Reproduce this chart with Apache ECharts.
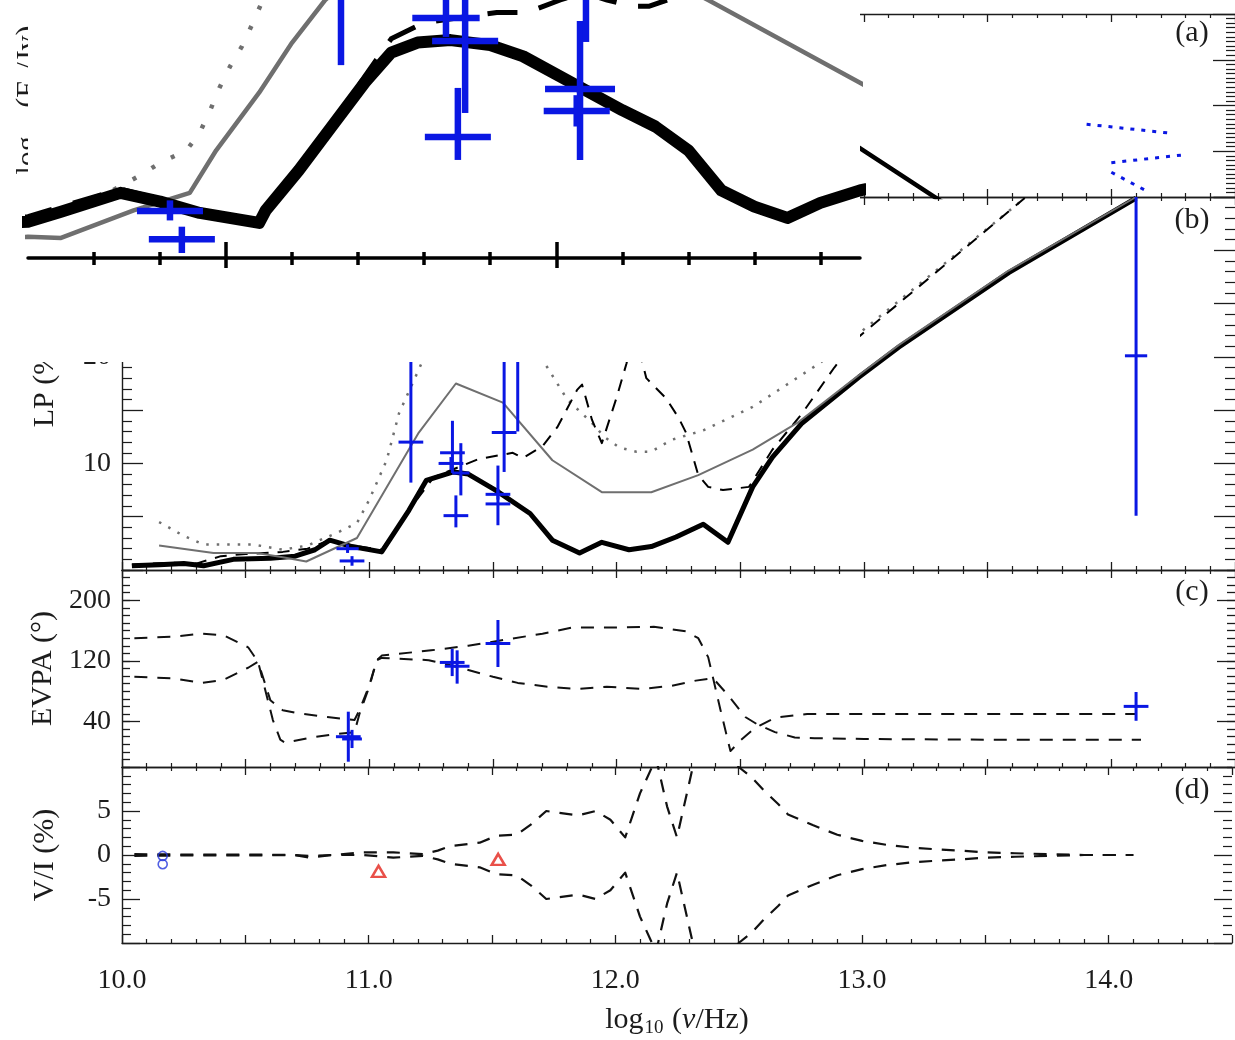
<!DOCTYPE html>
<html>
<head>
<meta charset="utf-8">
<title>Flux and polarization spectra</title>
<script src="https://cdn.jsdelivr.net/npm/echarts@6.0.0/dist/echarts.min.js"></script>
<style>
  html, body { margin: 0; padding: 0; background: #ffffff; }
  #chart { width: 1235px; height: 1040px; }
</style>
</head>
<body>
<div id="chart"></div>
<script>
// ---------------- frequency axis ----------------
const nuMin = 10.0, nuMax = 14.5;
const insetNuMin = 10.70, insetNuMax = 11.96;
const insetMinorTicks = [10.8, 10.9, 11.1, 11.2, 11.3, 11.4, 11.6, 11.7, 11.8, 11.9];
const insetMajorTicks = [11.0, 11.5];
const evpaLabelTicks = [40, 120, 200];

// ---------------- (a) flux density, log10(F/Jy) ----------------
const fluxTotalNu  = [10.30, 10.50, 10.70, 10.75, 10.84, 10.90, 10.96, 11.05, 11.06, 11.11, 11.16, 11.21, 11.25, 11.29, 11.34, 11.40, 11.45, 11.52, 11.60, 11.65, 11.70, 11.75, 11.80, 11.85, 11.90, 11.96, 12.10, 12.30, 12.55, 12.80, 12.98, 13.28, 13.40];
const fluxTotalVal = [-2.86, -2.78, -2.71, -2.63, -2.48, -2.55, -2.64, -2.72, -2.62, -2.30, -1.95, -1.60, -1.36, -1.28, -1.26, -1.30, -1.39, -1.59, -1.82, -1.95, -2.14, -2.46, -2.59, -2.68, -2.56, -2.46, -2.30, -2.15, -2.00, -1.86, -1.92, -2.98, -3.40];

const fluxHighNu  = [10.30, 10.50, 10.70, 10.75, 10.86, 10.945, 10.985, 11.05, 11.10, 11.15, 11.25, 11.40, 11.55, 11.73, 11.96, 12.20, 12.45, 12.60];
const fluxHighVal = [-3.00, -2.92, -2.83, -2.84, -2.62, -2.48, -2.14, -1.68, -1.28, -0.94, -0.50, -0.30, -0.45, -0.94, -1.60, -2.30, -3.10, -3.60];

const fluxDotNu  = [10.80, 10.87, 10.90, 10.94, 10.96, 10.976, 10.99, 11.006, 11.024, 11.039, 11.054, 11.20, 11.40, 11.70, 12.00, 12.40, 12.70];
const fluxDotVal = [-2.54, -2.34, -2.24, -2.14, -2.00, -1.82, -1.64, -1.47, -1.31, -1.14, -0.96, -0.10, 0.30, -0.20, -0.85, -2.40, -3.50];

const fluxDashNu  = [10.30, 10.50, 10.70, 10.75, 10.84, 10.90, 10.96, 11.05, 11.06, 11.11, 11.16, 11.21, 11.25, 11.30, 11.41, 11.456, 11.506, 11.54, 11.577, 11.616, 11.64, 11.668, 11.75, 11.90, 12.10, 12.40, 12.70];
const fluxDashVal = [-2.84, -2.76, -2.67, -2.59, -2.45, -2.53, -2.63, -2.72, -2.62, -2.30, -1.95, -1.55, -1.25, -1.12, -1.04, -1.04, -0.94, -0.88, -0.94, -0.99, -0.99, -0.94, -0.80, -0.60, -1.00, -2.30, -3.50];

// measured fluxes: frequency, value, frequency half-width, lower and upper error ends
const fluxObsNu    = [10.915, 10.933, 11.174, 11.333, 11.362, 11.351, 11.536, 11.531, 11.545];
const fluxObsVal   = [-2.625, -2.85, -0.60, -1.083, -1.267, -2.034, -1.65, -1.826, -0.70];
const fluxObsNuErr = [0.05, 0.05, 0.05, 0.051, 0.05, 0.05, 0.053, 0.05, 0.05];
const fluxObsLow   = [-2.70, -2.96, -1.46, -1.235, -1.842, -2.217, -2.217, -1.95, -1.275];
const fluxObsHigh  = [-2.54, -2.75, 0.26, -0.93, -0.69, -1.642, -1.107, -1.70, -0.12];

// near-IR / optical spectral slopes
const slopeANu = [13.90, 14.23], slopeAVal = [-1.41, -1.60];
const slopeBNu = [14.00, 14.29], slopeBVal = [-2.25, -2.08];
const slopeCNu = [14.00, 14.15], slopeCVal = [-2.46, -2.89];

// ---------------- (b) linear polarization, % ----------------
const lpTotalNu  = [10.04, 10.15, 10.25, 10.33, 10.45, 10.60, 10.70, 10.78, 10.84, 10.93, 11.05, 11.16, 11.23, 11.34, 11.40, 11.51, 11.65, 11.74, 11.85, 11.94, 12.05, 12.14, 12.24, 12.35, 12.45, 12.55, 12.63, 12.75, 12.98, 13.14, 13.585, 14.10];
const lpTotalVal = [0.4, 0.5, 0.6, 0.4, 1.0, 1.1, 1.3, 1.9, 2.8, 2.2, 1.7, 5.6, 8.4, 9.2, 9.0, 7.5, 5.3, 2.8, 1.6, 2.6, 1.9, 2.2, 3.1, 4.3, 2.6, 7.8, 10.6, 13.8, 18.1, 20.9, 27.9, 34.9];

const lpHighNu  = [10.15, 10.37, 10.545, 10.65, 10.745, 10.95, 11.20, 11.35, 11.54, 11.74, 11.94, 12.14, 12.33, 12.55, 12.73, 12.98, 13.14, 13.585, 14.10];
const lpHighVal = [2.3, 1.6, 1.6, 1.2, 0.8, 3.0, 12.9, 17.5, 15.7, 10.3, 7.3, 7.3, 8.9, 11.3, 13.8, 18.3, 21.1, 28.1, 35.0];

const lpDotNu  = [10.15, 10.25, 10.33, 10.53, 10.65, 10.75, 10.87, 10.95, 11.00, 11.07, 11.12, 11.19, 11.30, 11.45, 11.60, 11.72, 11.80, 11.90, 11.95, 12.01, 12.08, 12.14, 12.22, 12.35, 12.55, 12.82, 12.98, 13.65];
const lpDotVal = [4.5, 3.2, 2.4, 2.4, 1.9, 2.3, 3.5, 4.4, 6.6, 10.3, 14.7, 18.3, 24.0, 26.0, 23.0, 19.0, 16.0, 13.8, 12.5, 11.5, 11.1, 11.1, 12.2, 13.1, 15.3, 19.4, 22.2, 34.9];

const lpDashNu  = [10.04, 10.20, 10.30, 10.40, 10.50, 10.65, 10.75, 10.84, 10.93, 11.05, 11.16, 11.26, 11.44, 11.58, 11.62, 11.70, 11.76, 11.84, 11.86, 11.90, 11.94, 12.00, 12.04, 12.07, 12.12, 12.20, 12.25, 12.28, 12.33, 12.37, 12.43, 12.535, 12.63, 12.75, 12.88, 12.98, 13.65];
const lpDashVal = [0.5, 0.7, 0.6, 1.3, 1.5, 1.7, 2.0, 2.8, 2.3, 1.9, 5.6, 8.7, 10.4, 11.0, 10.5, 11.6, 13.4, 16.9, 17.4, 14.1, 11.9, 16.2, 19.4, 22.5, 18.0, 16.1, 14.3, 12.9, 8.9, 7.8, 7.5, 7.8, 11.3, 14.7, 19.0, 21.9, 34.9];

const lpObsNu    = [10.912, 10.930, 11.168, 11.336, 11.330, 11.370, 11.350, 11.545, 11.600, 11.520, 11.520, 14.100];
const lpObsVal   = [2.0, 0.85, 12.0, 11.0, 10.0, 9.1, 5.1, 12.9, 24.0, 7.1, 6.2, 20.1];
const lpObsNuErr = [0.045, 0.05, 0.05, 0.05, 0.05, 0.035, 0.05, 0.05, 0.05, 0.05, 0.05, 0.045];
const lpObsLow   = [1.6, 0.4, 8.2, 9.1, 9.4, 7.0, 4.0, 9.2, 13.0, 6.6, 4.2, 5.1];
const lpObsHigh  = [2.4, 1.3, 22.0, 14.0, 10.6, 11.9, 7.0, 22.0, 35.0, 7.6, 9.8, 35.1];

// ---------------- (c) EVPA, degrees ----------------
const evpaUNu  = [10.05, 10.21, 10.32, 10.41, 10.51, 10.55, 10.61, 10.64, 10.66, 10.75, 10.85, 10.94, 10.96, 11.00, 11.03, 11.05, 11.25, 11.40, 11.55, 11.70, 11.82, 12.00, 12.15, 12.28, 12.33, 12.37, 12.39, 12.42, 12.46, 12.50, 12.55, 12.58, 12.64, 12.77, 13.00, 13.50, 14.10];
const evpaUVal = [150, 152, 156, 154, 138, 119, 42, 16, 12, 18, 23, 26, 50, 86, 121, 127, 134, 140, 148, 156, 164, 164, 165, 159, 150, 125, 97, 55, 1, 15, 29, 35, 45, 50, 50, 50, 50];

const evpaLNu  = [10.05, 10.21, 10.32, 10.41, 10.51, 10.55, 10.60, 10.65, 10.71, 10.83, 10.94, 10.96, 11.00, 11.03, 11.05, 11.24, 11.32, 11.40, 11.50, 11.60, 11.72, 11.84, 11.96, 12.10, 12.22, 12.32, 12.39, 12.45, 12.52, 12.57, 12.64, 12.72, 12.80, 13.00, 13.50, 14.12];
const evpaLVal = [99, 97, 91, 95, 111, 119, 68, 55, 51, 46, 42, 55, 88, 121, 124, 121, 115, 108, 99, 91, 86, 83, 86, 83, 87, 94, 97, 75, 46, 36, 26, 19, 18, 17, 16, 16];

const evpaObsNu    = [10.915, 10.930, 11.335, 11.355, 11.520, 14.100];
const evpaObsVal   = [20, 17, 118, 113, 143, 60];
const evpaObsNuErr = [0.05, 0.04, 0.05, 0.05, 0.05, 0.05];
const evpaObsLow   = [-13, 5, 100, 90, 112, 41];
const evpaObsHigh  = [53, 29, 136, 134, 174, 79];

// ---------------- (d) circular polarization V/I, % ----------------
const vNu    = [10.05, 10.25, 10.50, 10.70, 10.76, 10.85, 10.98, 11.10, 11.22, 11.28, 11.33, 11.45, 11.52, 11.60, 11.66, 11.72, 11.77, 11.85, 11.92, 11.98, 12.04, 12.10, 12.165, 12.21, 12.25, 12.29, 12.33, 12.40, 12.50, 12.55, 12.60, 12.66, 12.70, 12.80, 12.90, 13.00, 13.10, 13.20, 13.30, 13.40, 13.50, 13.62, 13.75, 13.90, 14.10];
const vUpVal = [0.1, 0.05, 0.05, 0.0, -0.3, 0.0, 0.3, 0.3, 0.1, 0.5, 1.0, 1.4, 2.2, 2.3, 3.5, 5.0, 4.8, 4.5, 5.0, 4.0, 2.0, 7.0, 11.0, 5.5, 2.0, 7.0, 12.0, 15.0, 10.0, 8.9, 7.4, 5.8, 4.6, 3.4, 2.3, 1.6, 1.15, 0.85, 0.65, 0.5, 0.3, 0.2, 0.1, 0.0, 0.0];
const vLoVal = [-0.1, -0.05, -0.05, 0.0, -0.1, 0.0, 0.0, -0.3, -0.1, -0.5, -1.0, -1.4, -2.2, -2.3, -3.5, -5.0, -4.8, -4.5, -5.0, -4.0, -2.0, -7.0, -11.0, -5.5, -2.0, -7.0, -12.0, -15.0, -10.0, -8.9, -7.4, -5.8, -4.6, -3.4, -2.3, -1.6, -1.15, -0.85, -0.65, -0.5, -0.3, -0.2, -0.1, 0.0, 0.0];

const vCircleNu = [10.165, 10.165], vCircleVal = [-0.1, -1.05];
const vTriNu    = [11.04, 11.525],  vTriVal    = [-1.85, -0.5];

// ---------------- styling ----------------
const serif = '"Liberation Serif", "Times New Roman", Times, serif';
const ink = '#1c1c1c';
const blue = '#0a17e3';
const red = '#e3241b';
const grey = '#6f6f6f';

const panelGrids = [
  { left: 122, top: 12,  width: 1114.6, height: 185 },
  { left: 122, top: 197, width: 1114.6, height: 373 },
  { left: 122, top: 570, width: 1114.6, height: 197 },
  { left: 122, top: 767, width: 1114.6, height: 176 }
];
const insetGrid = { left: 28, top: 0, width: 832, height: 258, show: true,
  backgroundColor: '#ffffff', borderWidth: 0, zlevel: 2, z: 0 };

const pairs = (xs, ys) => xs.map((x, i) => [x, ys[i]]);
const crossRows = (nu, val, dnu, lo, hi) => nu.map((x, i) => [x, val[i], dnu[i], lo[i], hi[i]]);

const axisRich = {
  n: { fontFamily: serif, fontSize: 30, color: ink, lineHeight: 34, verticalAlign: 'top' },
  i: { fontFamily: serif, fontSize: 30, color: ink, fontStyle: 'italic', lineHeight: 34, verticalAlign: 'top' },
  s: { fontFamily: serif, fontSize: 19, color: ink, lineHeight: 20, verticalAlign: 'top', padding: [14, 1, 0, 1] }
};

function mainXAxis(gi, position, labelled) {
  const ax = {
    type: 'value', gridIndex: gi, position: position, min: nuMin, max: nuMax, interval: 0.5,
    splitLine: { show: false },
    axisLine: { show: true, onZero: false, lineStyle: { color: ink, width: 1.4 } },
    axisTick: { show: true, inside: true, length: 8, lineStyle: { color: ink, width: 1.3 } },
    minorTick: { show: true, splitNumber: 5, length: 4, lineStyle: { color: ink, width: 1.2 } },
    axisLabel: { show: labelled, margin: 24, fontFamily: serif, fontSize: 28, color: ink,
      formatter: v => Math.abs(v - Math.round(v)) < 1e-6 ? v.toFixed(1) : '' }
  };
  if (labelled) {
    ax.name = '{n|log}{s|10}{n| (}{i|ν}{n|/Hz)}';
    ax.nameLocation = 'middle';
    ax.nameGap = 62;
    ax.nameTextStyle = { rich: axisRich };
  }
  return ax;
}

const yCfg = [
  { min: -3,  max: 1,   interval: 1,  major: 22, minorSplit: 10, minor: 9,  fmt: v => String(v), name: '' },
  { min: 0,   max: 35,  interval: 5,  major: 21, minorSplit: 5,  minor: 10, fmt: v => (v > 0 && v % 10 === 0) ? String(v) : '', name: 'LP (%)' },
  { min: -20, max: 240, interval: 10, major: 8,  minorSplit: 0,  minor: 0,  fmt: v => evpaLabelTicks.indexOf(v) >= 0 ? String(v) : '', name: 'EVPA (°)' },
  { min: -10, max: 10,  interval: 5,  major: 18, minorSplit: 5,  minor: 9,  fmt: v => Math.abs(v) < 10 ? String(v) : '', name: 'V/I (%)' }
];

function mainYAxis(gi, position) {
  const c = yCfg[gi];
  const left = position === 'left';
  return {
    type: 'value', gridIndex: gi, position: position, min: c.min, max: c.max, interval: c.interval,
    splitLine: { show: false },
    axisLine: { show: left, onZero: false, lineStyle: { color: ink, width: 1.4 } },
    axisTick: { show: true, inside: true, length: c.major, lineStyle: { color: ink, width: 1.3 } },
    minorTick: { show: c.minorSplit > 0, splitNumber: c.minorSplit || 2, length: c.minor, lineStyle: { color: ink, width: 1.2 } },
    axisLabel: { show: left, margin: 11, fontFamily: serif, fontSize: 28, color: ink, formatter: c.fmt },
    name: left ? c.name : '',
    nameLocation: 'middle', nameRotate: 90, nameGap: 62,
    nameTextStyle: { fontFamily: serif, fontSize: 30, color: ink }
  };
}

function evpaLongTicks(position) {
  return {
    type: 'value', gridIndex: 2, position: position, min: -20, max: 240,
    splitLine: { show: false }, axisLine: { show: false }, axisLabel: { show: false },
    axisTick: { show: true, inside: true, length: 18, customValues: evpaLabelTicks, lineStyle: { color: ink, width: 1.3 } }
  };
}

function insetXAxis(values, inside, length, withLine) {
  return {
    type: 'value', gridIndex: 4, position: 'bottom', min: insetNuMin, max: insetNuMax,
    zlevel: 2, z: 5,
    splitLine: { show: false },
    axisLine: { show: withLine, onZero: false, lineStyle: { color: '#000', width: 3.5 } },
    axisTick: { show: true, inside: inside, length: length, customValues: values, lineStyle: { color: '#000', width: 3.5 } },
    minorTick: { show: false },
    axisLabel: { show: false }
  };
}

const xAxes = [];
panelGrids.forEach((g, gi) => {
  xAxes.push(mainXAxis(gi, 'bottom', gi === 3));   // index 2*gi
  xAxes.push(mainXAxis(gi, 'top', false));         // index 2*gi+1
});
xAxes.push(insetXAxis(insetMinorTicks, true, 6, true));   // 8
xAxes.push(insetXAxis(insetMinorTicks, false, 7, false)); // 9
xAxes.push(insetXAxis(insetMajorTicks, true, 16, false)); // 10
xAxes.push(insetXAxis(insetMajorTicks, false, 10, false));// 11

const yAxes = [];
panelGrids.forEach((g, gi) => {
  yAxes.push(mainYAxis(gi, 'left'));   // 2*gi
  yAxes.push(mainYAxis(gi, 'right'));  // 2*gi+1
});
yAxes.push(evpaLongTicks('left'));   // 8
yAxes.push(evpaLongTicks('right'));  // 9
yAxes.push({ type: 'value', gridIndex: 4, min: -3, max: -0.94, show: false, zlevel: 2 }); // 10

// error-bar crosses, clipped to the plotting box
function crossRenderer(color, width) {
  return function (params, api) {
    const cs = params.coordSys;
    const bx0 = cs.x, bx1 = cs.x + cs.width, by0 = cs.y, by1 = cs.y + cs.height;
    const nu = api.value(0), v = api.value(1), dnu = api.value(2), lo = api.value(3), hi = api.value(4);
    const c = api.coord([nu, v]);
    const l = api.coord([nu - dnu, v]), r = api.coord([nu + dnu, v]);
    const b = api.coord([nu, lo]), t = api.coord([nu, hi]);
    const cx = p => Math.min(bx1, Math.max(bx0, p));
    const cy = p => Math.min(by1, Math.max(by0, p));
    const style = { stroke: color, lineWidth: width, fill: null };
    const kids = [];
    if (c[1] >= by0 && c[1] <= by1) {
      kids.push({ type: 'line', shape: { x1: cx(l[0]), y1: c[1], x2: cx(r[0]), y2: c[1] }, style: style });
    }
    if (c[0] >= bx0 && c[0] <= bx1) {
      const ya = cy(Math.min(t[1], b[1])), yb = cy(Math.max(t[1], b[1]));
      if (yb > ya) kids.push({ type: 'line', shape: { x1: c[0], y1: ya, x2: c[0], y2: yb }, style: style });
    }
    return { type: 'group', children: kids };
  };
}

function lineSeries(xi, yi, nu, val, color, width, dash, z, zlevel) {
  return {
    type: 'line', xAxisIndex: xi, yAxisIndex: yi, data: pairs(nu, val),
    showSymbol: false, symbol: 'none', silent: true, animation: false,
    z: z, zlevel: zlevel || 0, clip: true,
    lineStyle: { color: color, width: width, type: dash || 'solid', join: 'round' }
  };
}
function crossSeries(xi, yi, rows, color, width, z, zlevel) {
  return {
    type: 'custom', xAxisIndex: xi, yAxisIndex: yi, data: rows,
    renderItem: crossRenderer(color, width), encode: { x: 0, y: 1 },
    silent: true, animation: false, z: z, zlevel: zlevel || 0
  };
}

const fluxRows = crossRows(fluxObsNu, fluxObsVal, fluxObsNuErr, fluxObsLow, fluxObsHigh);

const series = [
  // (a)
  lineSeries(0, 0, fluxDotNu, fluxDotVal, grey, 2.5, [2.5, 8], 2),
  lineSeries(0, 0, fluxHighNu, fluxHighVal, grey, 2, null, 3),
  lineSeries(0, 0, fluxDashNu, fluxDashVal, '#000', 2, [12, 9], 4),
  lineSeries(0, 0, fluxTotalNu, fluxTotalVal, '#000', 4.5, null, 5),
  crossSeries(0, 0, fluxRows, blue, 3, 7),
  lineSeries(0, 0, slopeANu, slopeAVal, blue, 3, [4, 7], 7),
  lineSeries(0, 0, slopeBNu, slopeBVal, blue, 3, [4, 7], 7),
  lineSeries(0, 0, slopeCNu, slopeCVal, blue, 3, [4, 7], 7),
  // (b)
  lineSeries(2, 2, lpDotNu, lpDotVal, grey, 2.5, [2.5, 8], 2),
  lineSeries(2, 2, lpDashNu, lpDashVal, '#000', 2, [12, 9], 4),
  lineSeries(2, 2, lpTotalNu, lpTotalVal, '#000', 5, null, 5),
  lineSeries(2, 2, lpHighNu, lpHighVal, grey, 2, null, 6),
  crossSeries(2, 2, crossRows(lpObsNu, lpObsVal, lpObsNuErr, lpObsLow, lpObsHigh), blue, 3, 7),
  // (c)
  lineSeries(4, 4, evpaUNu, evpaUVal, '#111', 2, [13, 10], 4),
  lineSeries(4, 4, evpaLNu, evpaLVal, '#111', 2, [13, 10], 4),
  crossSeries(4, 4, crossRows(evpaObsNu, evpaObsVal, evpaObsNuErr, evpaObsLow, evpaObsHigh), blue, 3, 7),
  // (d)
  lineSeries(6, 6, vNu, vUpVal, '#111', 2.2, [13, 10], 4),
  lineSeries(6, 6, vNu, vLoVal, '#111', 2.2, [13, 10], 4),
  { type: 'scatter', xAxisIndex: 6, yAxisIndex: 6, data: pairs(vCircleNu, vCircleVal),
    symbol: 'circle', symbolSize: 9, silent: true, animation: false, z: 7,
    itemStyle: { color: 'rgba(0,0,0,0)', borderColor: '#2537dc', borderWidth: 1.6 } },
  { type: 'scatter', xAxisIndex: 6, yAxisIndex: 6, data: pairs(vTriNu, vTriVal),
    symbol: 'triangle', symbolSize: [13, 11], silent: true, animation: false, z: 7,
    itemStyle: { color: 'rgba(0,0,0,0)', borderColor: red, borderWidth: 2.5 } },
  // enlarged view of the (a) peak region
  lineSeries(8, 10, fluxDotNu, fluxDotVal, grey, 4.5, [4, 18], 2, 2),
  lineSeries(8, 10, fluxHighNu, fluxHighVal, grey, 4.5, null, 3, 2),
  lineSeries(8, 10, fluxDashNu, fluxDashVal, '#000', 5, [30, 22], 4, 2),
  lineSeries(8, 10, fluxTotalNu, fluxTotalVal, '#000', 12, null, 5, 2),
  crossSeries(8, 10, fluxRows, blue, 6.5, 7, 2)
];

const graphicRich = {
  n: { fontFamily: serif, fontSize: 30, fill: ink, lineHeight: 34, verticalAlign: 'top' },
  s: { fontFamily: serif, fontSize: 19, fill: ink, lineHeight: 20, verticalAlign: 'top', padding: [14, 1, 0, 1] },
  i: { fontFamily: serif, fontSize: 19, fill: ink, fontStyle: 'italic', lineHeight: 20, verticalAlign: 'top', padding: [14, 1, 0, 1] }
};

function panelTag(text, y) {
  return { type: 'text', x: 1192, y: y, zlevel: 0, z: 50, silent: true,
    style: { text: text, fontFamily: serif, fontSize: 30, fill: ink,
      align: 'center', verticalAlign: 'middle', textAlign: 'center', textVerticalAlign: 'middle' } };
}

const option = {
  backgroundColor: '#ffffff',
  animation: false,
  textStyle: { fontFamily: serif },
  grid: panelGrids.concat([insetGrid]),
  xAxis: xAxes,
  yAxis: yAxes,
  series: series,
  graphic: { elements: [
    panelTag('(a)', 33),
    panelTag('(b)', 220),
    panelTag('(c)', 592),
    panelTag('(d)', 790),
    { type: 'rect', zlevel: 1, z: 0, silent: true,
      shape: { x: 0, y: 0, width: 860, height: 362 }, style: { fill: '#ffffff' } },
    { type: 'text', zlevel: 1, z: 10, silent: true, x: 30, y: 100, rotation: Math.PI / 2,
      style: { text: '{n|log}{s|10}{n| (F}{i|ν}{n|/Jy)}', rich: graphicRich,
        align: 'center', verticalAlign: 'middle', textAlign: 'center', textVerticalAlign: 'middle' } }
  ] }
};

const chart = echarts.init(document.getElementById('chart'), null, { renderer: 'canvas' });
chart.setOption(option);
</script>
</body>
</html>
